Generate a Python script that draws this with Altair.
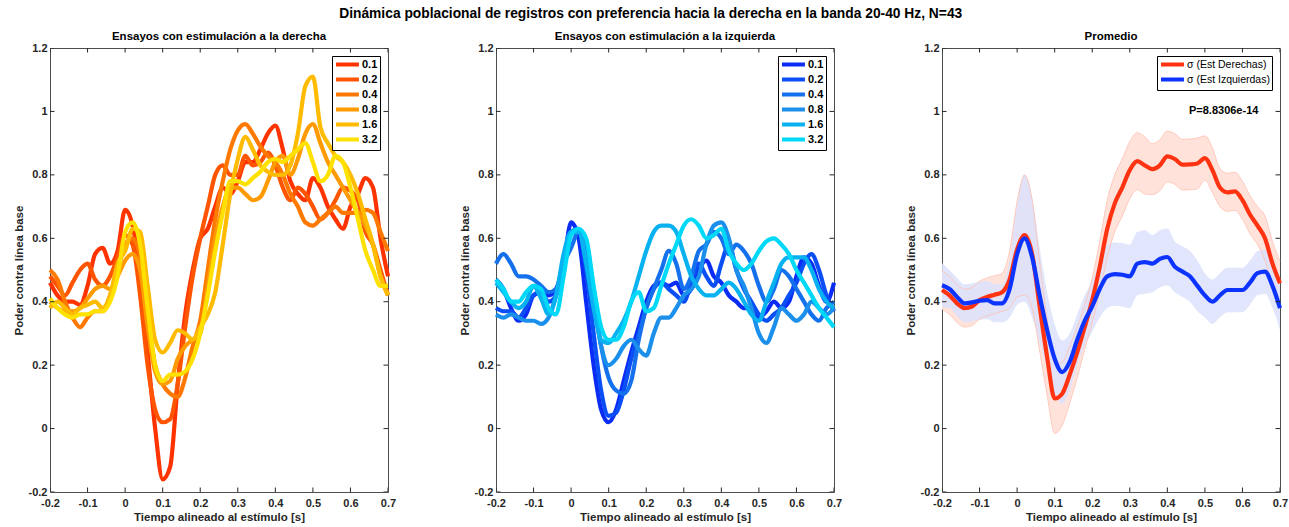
import altair as alt
import pandas as pd

# ---------------- data ----------------
T = [-0.2, -0.18, -0.16, -0.14, -0.12, -0.1, -0.08, -0.06, -0.04, -0.02,
     0.0, 0.02, 0.04, 0.06, 0.08, 0.1, 0.12, 0.14, 0.16, 0.18,
     0.2, 0.22, 0.24, 0.26, 0.28, 0.3, 0.32, 0.34, 0.36, 0.38,
     0.4, 0.42, 0.44, 0.46, 0.48, 0.5, 0.52, 0.54, 0.56, 0.58,
     0.6, 0.62, 0.64, 0.66, 0.68, 0.7]

LEVELS = ["0.1", "0.2", "0.4", "0.8", "1.6", "3.2"]

# Right-stimulation trials
DER = {
    "0.1": [0.46, 0.42, 0.40, 0.40, 0.39, 0.45, 0.55, 0.57, 0.52, 0.56,
            0.69, 0.64, 0.48, 0.24, 0.00, -0.16, -0.12, 0.14, 0.36, 0.50,
            0.60, 0.63, 0.70, 0.76, 0.74, 0.78, 0.84, 0.84, 0.88, 0.93,
            0.955, 0.88, 0.78, 0.74, 0.72, 0.79, 0.76, 0.70, 0.66, 0.63,
            0.70, 0.74, 0.79, 0.76, 0.60, 0.48],
    "0.2": [0.48, 0.45, 0.42, 0.46, 0.50, 0.52, 0.47, 0.45, 0.48, 0.54,
            0.61, 0.58, 0.42, 0.20, 0.06, 0.02, 0.03, 0.14, 0.32, 0.48,
            0.60, 0.70, 0.80, 0.83, 0.80, 0.80, 0.86, 0.83, 0.84, 0.87,
            0.83, 0.76, 0.72, 0.76, 0.74, 0.70, 0.66, 0.68, 0.72, 0.76,
            0.75, 0.72, 0.62, 0.58, 0.50, 0.42],
    "0.4": [0.50, 0.47, 0.40, 0.35, 0.32, 0.35, 0.37, 0.37, 0.42, 0.50,
            0.58, 0.60, 0.54, 0.36, 0.20, 0.14, 0.11, 0.10, 0.16, 0.26,
            0.34, 0.50, 0.66, 0.78, 0.88, 0.94, 0.96, 0.93, 0.89, 0.86,
            0.84, 0.80, 0.74, 0.70, 0.65, 0.64, 0.66, 0.68, 0.70, 0.68,
            0.68, 0.68, 0.69, 0.68, 0.62, 0.56],
    "0.8": [0.40, 0.38, 0.37, 0.37, 0.38, 0.41, 0.44, 0.45, 0.44, 0.48,
            0.53, 0.55, 0.50, 0.32, 0.18, 0.14, 0.15, 0.22, 0.26, 0.28,
            0.30, 0.45, 0.60, 0.70, 0.76, 0.76, 0.74, 0.72, 0.73, 0.78,
            0.84, 0.86, 0.80, 0.85, 0.93, 0.96, 0.90, 0.84, 0.80, 0.76,
            0.72, 0.68, 0.64, 0.58, 0.48, 0.42],
    "1.6": [0.38, 0.40, 0.38, 0.36, 0.38, 0.39, 0.40, 0.38, 0.42, 0.52,
            0.56, 0.63, 0.62, 0.45, 0.28, 0.24, 0.27, 0.31, 0.30, 0.28,
            0.32, 0.36, 0.43, 0.58, 0.74, 0.85, 0.92, 0.88, 0.83, 0.81,
            0.80, 0.80, 0.83, 0.93, 1.08, 1.11, 0.95, 0.90, 0.86, 0.84,
            0.80, 0.74, 0.66, 0.58, 0.48, 0.42],
    "3.2": [0.41, 0.38, 0.36, 0.35, 0.36, 0.36, 0.37, 0.37, 0.40, 0.48,
            0.62, 0.65, 0.58, 0.38, 0.20, 0.15, 0.17, 0.17, 0.18, 0.22,
            0.30, 0.42, 0.56, 0.68, 0.78, 0.78, 0.77, 0.79, 0.81, 0.84,
            0.85, 0.84, 0.86, 0.88, 0.90, 0.84, 0.78, 0.80, 0.86, 0.84,
            0.76, 0.66, 0.56, 0.50, 0.45, 0.45],
}

# Left-stimulation trials
IZQ = {
    "0.1": [0.47, 0.44, 0.38, 0.34, 0.36, 0.42, 0.43, 0.42, 0.44, 0.52,
            0.65, 0.60, 0.40, 0.20, 0.06, 0.02, 0.06, 0.15, 0.24, 0.32,
            0.40, 0.45, 0.46, 0.45, 0.46, 0.42, 0.44, 0.50, 0.53, 0.48,
            0.46, 0.42, 0.40, 0.38, 0.38, 0.35, 0.37, 0.40, 0.38, 0.40,
            0.48, 0.54, 0.52, 0.45, 0.40, 0.46],
    "0.2": [0.38, 0.37, 0.37, 0.35, 0.38, 0.42, 0.43, 0.40, 0.42, 0.50,
            0.62, 0.62, 0.50, 0.30, 0.12, 0.04, 0.05, 0.12, 0.22, 0.30,
            0.38, 0.44, 0.46, 0.44, 0.42, 0.40, 0.46, 0.52, 0.48, 0.45,
            0.52, 0.58, 0.50, 0.44, 0.40, 0.36, 0.34, 0.36, 0.38, 0.42,
            0.46, 0.52, 0.55, 0.50, 0.42, 0.37],
    "0.4": [0.52, 0.55, 0.52, 0.48, 0.48, 0.47, 0.45, 0.43, 0.44, 0.52,
            0.57, 0.62, 0.58, 0.42, 0.26, 0.16, 0.12, 0.11, 0.15, 0.28,
            0.38, 0.44, 0.50, 0.56, 0.52, 0.44, 0.48, 0.56, 0.58, 0.62,
            0.60, 0.55, 0.58, 0.56, 0.52, 0.45, 0.40, 0.44, 0.50, 0.48,
            0.44, 0.40, 0.36, 0.34, 0.38, 0.40],
    "0.8": [0.36, 0.35, 0.36, 0.35, 0.34, 0.34, 0.33, 0.35, 0.42, 0.52,
            0.62, 0.63, 0.55, 0.40, 0.26, 0.20, 0.22, 0.26, 0.28, 0.25,
            0.23, 0.30, 0.35, 0.35, 0.38, 0.42, 0.44, 0.48, 0.58, 0.64,
            0.65, 0.60, 0.50, 0.45, 0.38, 0.30, 0.27, 0.32, 0.38, 0.36,
            0.34, 0.36, 0.40, 0.38, 0.36, 0.38],
    "1.6": [0.46, 0.43, 0.40, 0.38, 0.40, 0.45, 0.41, 0.36, 0.42, 0.55,
            0.62, 0.62, 0.52, 0.38, 0.28, 0.27, 0.30, 0.34, 0.40, 0.48,
            0.56, 0.62, 0.64, 0.64, 0.62, 0.55, 0.48, 0.44, 0.42, 0.42,
            0.44, 0.46, 0.44, 0.40, 0.36, 0.34, 0.40, 0.46, 0.52, 0.54,
            0.54, 0.54, 0.50, 0.44, 0.40, 0.38],
    "3.2": [0.47, 0.44, 0.40, 0.40, 0.43, 0.45, 0.44, 0.38, 0.36, 0.48,
            0.61, 0.63, 0.60, 0.45, 0.32, 0.28, 0.28, 0.32, 0.40, 0.43,
            0.37, 0.38, 0.45, 0.52, 0.58, 0.64, 0.66, 0.64, 0.60, 0.61,
            0.63, 0.56, 0.52, 0.50, 0.52, 0.56, 0.59, 0.60, 0.58, 0.55,
            0.50, 0.46, 0.42, 0.38, 0.35, 0.32],
}

# Averages and their spread
R_MEAN = [0.437, 0.42, 0.395, 0.38, 0.385, 0.405, 0.415, 0.422, 0.43, 0.47,
          0.565, 0.61, 0.55, 0.385, 0.225, 0.095, 0.11, 0.17, 0.24, 0.32,
          0.405, 0.51, 0.63, 0.71, 0.76, 0.815, 0.843, 0.83, 0.818, 0.83,
          0.858, 0.85, 0.832, 0.833, 0.836, 0.853, 0.815, 0.76, 0.745, 0.748,
          0.72, 0.675, 0.64, 0.60, 0.52, 0.458]
R_SEM = [0.06, 0.06, 0.06, 0.06, 0.06, 0.06, 0.06, 0.06, 0.06, 0.09,
         0.15, 0.19, 0.17, 0.14, 0.12, 0.11, 0.10, 0.09, 0.08, 0.07,
         0.07, 0.08, 0.09, 0.09, 0.09, 0.09, 0.09, 0.09, 0.08, 0.08,
         0.08, 0.08, 0.08, 0.08, 0.08, 0.07, 0.07, 0.06, 0.06, 0.06,
         0.06, 0.06, 0.06, 0.07, 0.07, 0.07]
B_MEAN = [0.452, 0.44, 0.415, 0.395, 0.398, 0.403, 0.405, 0.395, 0.395, 0.44,
          0.55, 0.60, 0.54, 0.42, 0.31, 0.22, 0.178, 0.21, 0.28, 0.34,
          0.385, 0.44, 0.48, 0.487, 0.485, 0.48, 0.52, 0.525, 0.52, 0.535,
          0.541, 0.51, 0.495, 0.48, 0.45, 0.42, 0.40, 0.42, 0.437, 0.437,
          0.437, 0.46, 0.49, 0.495, 0.45, 0.38]
B_SEM = [0.07, 0.06, 0.06, 0.06, 0.06, 0.06, 0.06, 0.06, 0.06, 0.09,
         0.16, 0.20, 0.19, 0.15, 0.12, 0.11, 0.10, 0.09, 0.08, 0.08,
         0.08, 0.09, 0.10, 0.10, 0.10, 0.10, 0.10, 0.10, 0.09, 0.09,
         0.09, 0.08, 0.08, 0.08, 0.08, 0.07, 0.07, 0.07, 0.07, 0.07,
         0.07, 0.07, 0.07, 0.07, 0.07, 0.07]

X_TICKS = [-0.2, -0.1, 0.0, 0.1, 0.2, 0.3, 0.4, 0.5, 0.6, 0.7]
Y_TICKS = [-0.2, 0.0, 0.2, 0.4, 0.6, 0.8, 1.0, 1.2]

DER_COLORS = ["#FF3300", "#FF5500", "#FF7800", "#FF9A00", "#FFBB00", "#FFE100"]
IZQ_COLORS = ["#0A2CF5", "#0A4EF5", "#1470EC", "#1A90EC", "#08B2F0", "#00D8F8"]
MEAN_LABELS = ["σ (Est Derechas)", "σ (Est Izquierdas)"]
MEAN_COLORS = ["#FF3311", "#0D33FF"]

MAIN_TITLE = "Dinámica poblacional de registros con preferencia hacia la derecha en la banda 20-40 Hz, N=43"
TITLES = ["Ensayos con estimulación a la derecha",
          "Ensayos con estimulación a la izquierda",
          "Promedio"]
P_TEXT = "P=8.8306e-14"
P_POS = (0.55, 1.0)

# ---------------- styling ----------------
FONT = "Liberation Sans"
AX = "#262626"
W, H = 338, 444
LABEL_EXPR = "datum.value < 0 ? '-' + format(-datum.value, '~g') : format(datum.value, '~g')"
YSCALE = alt.Scale(domain=[-0.2, 1.2], nice=False, zero=False)

xenc = alt.X("t:Q", scale=alt.Scale(domain=[-0.2, 0.7], nice=False, zero=False),
             axis=alt.Axis(values=X_TICKS, title="Tiempo alineado al estímulo [s]",
                           labelExpr=LABEL_EXPR, labelFlush=False))
yenc = alt.Y("v:Q", scale=YSCALE,
             axis=alt.Axis(values=Y_TICKS, title="Poder contra línea base",
                           labelExpr=LABEL_EXPR, labelFlush=False))


def tick_layers():
    xt = pd.DataFrame({"t": X_TICKS})
    yt = pd.DataFrame({"v": Y_TICKS})
    common = dict(clip=True, size=9, thickness=1, color=AX, opacity=1)
    return [
        alt.Chart(xt).mark_tick(orient="vertical", **common).encode(x=xenc, y=alt.value(0)),
        alt.Chart(xt).mark_tick(orient="vertical", **common).encode(x=xenc, y=alt.value(H)),
        alt.Chart(yt).mark_tick(orient="horizontal", **common).encode(y=yenc, x=alt.value(0)),
        alt.Chart(yt).mark_tick(orient="horizontal", **common).encode(y=yenc, x=alt.value(W)),
    ]


def legend(label_weight="bold", label_size=11):
    return alt.Legend(orient="top-right", offset=8, title=None,
                      strokeColor="black", fillColor="white", padding=2,
                      symbolType="M-1,0H4.1", symbolStrokeWidth=4, symbolSize=81,
                      labelFont=FONT, labelFontSize=label_size,
                      labelFontWeight=label_weight, labelColor="black",
                      rowPadding=-6, labelOffset=15)


def panel_title(txt):
    return alt.TitleParams(txt, font=FONT, fontSize=11.5, fontWeight="bold",
                           color="black", offset=0, anchor="middle")


def trials_panel(series, colors, field, title):
    rows = []
    for lvl in LEVELS:
        for t, v in zip(T, series[lvl]):
            rows.append({"t": t, "v": v, field: lvl})
    df = pd.DataFrame(rows)
    lines = alt.Chart(df).mark_line(strokeWidth=4.2, interpolate="monotone").encode(
        x=xenc, y=yenc,
        color=alt.Color(f"{field}:N", scale=alt.Scale(domain=LEVELS, range=colors),
                        legend=legend()),
    )
    return alt.layer(lines, *tick_layers()).properties(width=W, height=H, title=panel_title(title))


p1 = trials_panel(DER, DER_COLORS, "nivel_d", TITLES[0])
p2 = trials_panel(IZQ, IZQ_COLORS, "nivel_i", TITLES[1])

# average panel
band_r = pd.DataFrame({"t": T, "lo": [m - s for m, s in zip(R_MEAN, R_SEM)],
                       "hi": [m + s for m, s in zip(R_MEAN, R_SEM)]})
band_b = pd.DataFrame({"t": T, "lo": [m - s for m, s in zip(B_MEAN, B_SEM)],
                       "hi": [m + s for m, s in zip(B_MEAN, B_SEM)]})
mean_df = pd.DataFrame(
    [{"t": t, "v": v, "grupo": MEAN_LABELS[0]} for t, v in zip(T, R_MEAN)] +
    [{"t": t, "v": v, "grupo": MEAN_LABELS[1]} for t, v in zip(T, B_MEAN)]
)

area_r = alt.Chart(band_r).mark_area(interpolate="monotone", color="#FFE3DB", opacity=1).encode(
    x=xenc, y=alt.Y("lo:Q", scale=YSCALE), y2="hi:Q")
area_b = alt.Chart(band_b).mark_area(interpolate="monotone", color="#DCE2FB", opacity=0.85).encode(
    x=xenc, y=alt.Y("lo:Q", scale=YSCALE), y2="hi:Q")
edge_lo = alt.Chart(band_r).mark_line(interpolate="monotone", color="#FFBFB0", strokeWidth=0.8).encode(
    x=xenc, y=alt.Y("lo:Q", scale=YSCALE))
edge_hi = alt.Chart(band_r).mark_line(interpolate="monotone", color="#FFBFB0", strokeWidth=0.8).encode(
    x=xenc, y=alt.Y("hi:Q", scale=YSCALE))
mean_lines = alt.Chart(mean_df).mark_line(strokeWidth=4.2, interpolate="monotone").encode(
    x=xenc, y=yenc,
    color=alt.Color("grupo:N", scale=alt.Scale(domain=MEAN_LABELS, range=MEAN_COLORS),
                    legend=legend(label_weight="normal", label_size=10.5)),
    order=alt.Order("grupo:N"),
)
ptext = alt.Chart(pd.DataFrame({"t": [P_POS[0]], "v": [P_POS[1]], "s": [P_TEXT]})).mark_text(
    font=FONT, fontSize=11, fontWeight="bold", color="black", align="center", baseline="middle"
).encode(x=xenc, y=yenc, text="s:N")

p3 = alt.layer(area_r, area_b, edge_lo, edge_hi, mean_lines, ptext, *tick_layers()).properties(
    width=W, height=H, title=panel_title(TITLES[2]))

chart = alt.hconcat(p1, p2, p3, spacing=61).resolve_scale(color="independent").properties(
    title=alt.TitleParams(MAIN_TITLE, font=FONT, fontSize=13.8, fontWeight="bold",
                          color="black", anchor="middle", offset=9),
    padding={"left": 12, "top": 7, "right": 0, "bottom": 0},
).configure_view(stroke="#4d4d4d", strokeWidth=1).configure_axis(
    grid=False, ticks=False, domain=False,
    labelFont=FONT, labelFontSize=11, labelFontWeight="bold", labelColor=AX,
    titleFont=FONT, titleFontSize=11.5, titleFontWeight="bold", titleColor=AX,
).configure_axisX(labelPadding=5, titlePadding=3).configure_axisY(labelPadding=3, titlePadding=4)

chart.save("out.html", embed_options={"renderer": "svg", "actions": False})
